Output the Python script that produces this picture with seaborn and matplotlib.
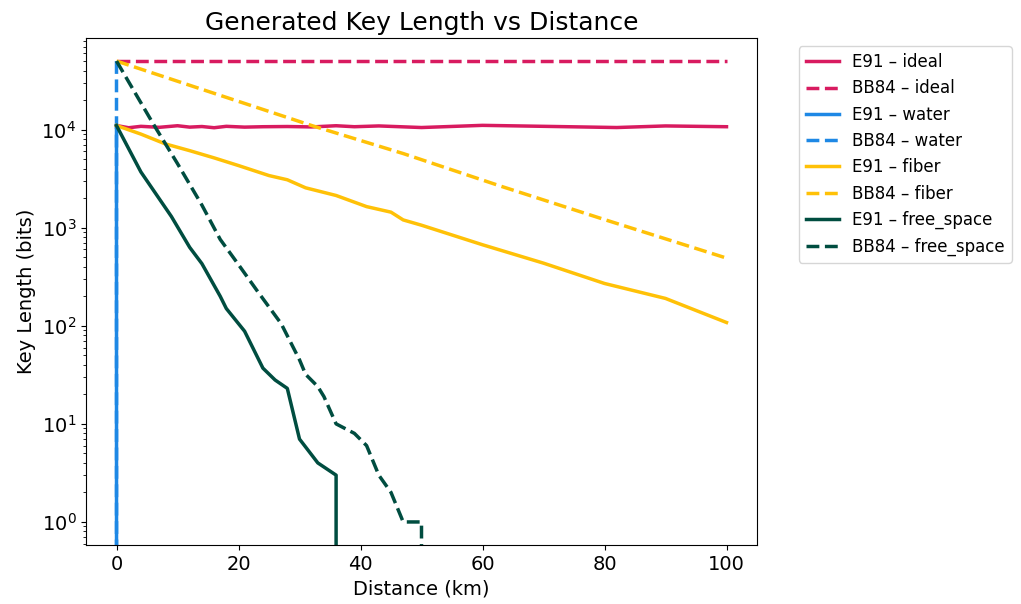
import matplotlib
matplotlib.use("Agg")
import matplotlib.pyplot as plt
import seaborn as sns

# distances (km) and key lengths (bits)
d_e91_ideal = [0, 2, 4, 7, 10, 12, 14, 16, 18, 21, 24, 28, 32, 36, 39, 43, 50, 60, 70, 76, 82, 90, 100]
e91_ideal = [11000, 10450, 10800, 10550, 10950, 10600, 10750, 10450, 10800, 10600, 10700, 10750,
             10650, 10950, 10700, 10900, 10500, 11050, 10800, 10650, 10500, 10900, 10700]

d_bb84_ideal = [0, 25, 50, 75, 100]
bb84_ideal = [50000, 50000, 50000, 50000, 50000]

d_water = [0, 1, 100]
e91_water = [11000, 0, 0]
bb84_water = [50000, 0, 0]

d_e91_fiber = [0, 4, 8, 12, 16, 20, 25, 28, 31, 36, 41, 45, 47, 50, 60, 70, 80, 90, 100]
e91_fiber = [11000, 9000, 7150, 6100, 5150, 4300, 3400, 3080, 2550, 2130, 1640, 1440, 1200, 1060,
             670, 435, 270, 190, 108]

d_bb84_fiber = [0, 13, 32, 47, 63, 80, 100]
bb84_fiber = [50000, 27000, 11000, 5700, 2650, 1210, 490]

d_e91_fs = [0, 4, 9, 12, 14, 17, 18, 21, 24, 26, 28, 30, 33, 36, 37, 100]
e91_fs = [11000, 3700, 1300, 630, 430, 200, 150, 88, 37, 28, 23, 7, 4, 3, 0, 0]

d_bb84_fs = [0, 6, 10, 14, 17, 20, 23, 27, 30, 31, 33, 34, 36, 39, 41, 43, 45, 47, 50, 51, 100]
bb84_fs = [50000, 11500, 4500, 1700, 760, 420, 230, 105, 45, 32, 24, 19, 10, 8, 6, 3, 2, 1, 1, 0, 0]

colors = {"ideal": "#D81B60", "water": "#1E88E5", "fiber": "#FFC107", "free_space": "#004D40"}

series = [
    ("E91", "ideal", d_e91_ideal, e91_ideal),
    ("BB84", "ideal", d_bb84_ideal, bb84_ideal),
    ("E91", "water", d_water, e91_water),
    ("BB84", "water", d_water, bb84_water),
    ("E91", "fiber", d_e91_fiber, e91_fiber),
    ("BB84", "fiber", d_bb84_fiber, bb84_fiber),
    ("E91", "free_space", d_e91_fs, e91_fs),
    ("BB84", "free_space", d_bb84_fs, bb84_fs),
]

fig = plt.figure(figsize=(10.21, 6.04), dpi=100)
ax = fig.add_axes([86 / 1021, 59 / 604, 671 / 1021, 507 / 604])
ax.set_yscale("log")

for proto, channel, d, v in series:
    sns.lineplot(x=d, y=v, ax=ax, color=colors[channel], linewidth=2.5,
                 linestyle="-" if proto == "E91" else "--",
                 label=f"{proto} \u2013 {channel}", errorbar=None)

ax.set_title("Generated Key Length vs Distance", fontsize=18)
ax.set_xlabel("Distance (km)", fontsize=14)
ax.set_ylabel("Key Length (bits)", fontsize=14)
ax.tick_params(axis="both", which="major", labelsize=14)
ax.legend(loc="upper left", bbox_to_anchor=(1.05, 1), fontsize=12)

fig.savefig("out.png", dpi=100)
